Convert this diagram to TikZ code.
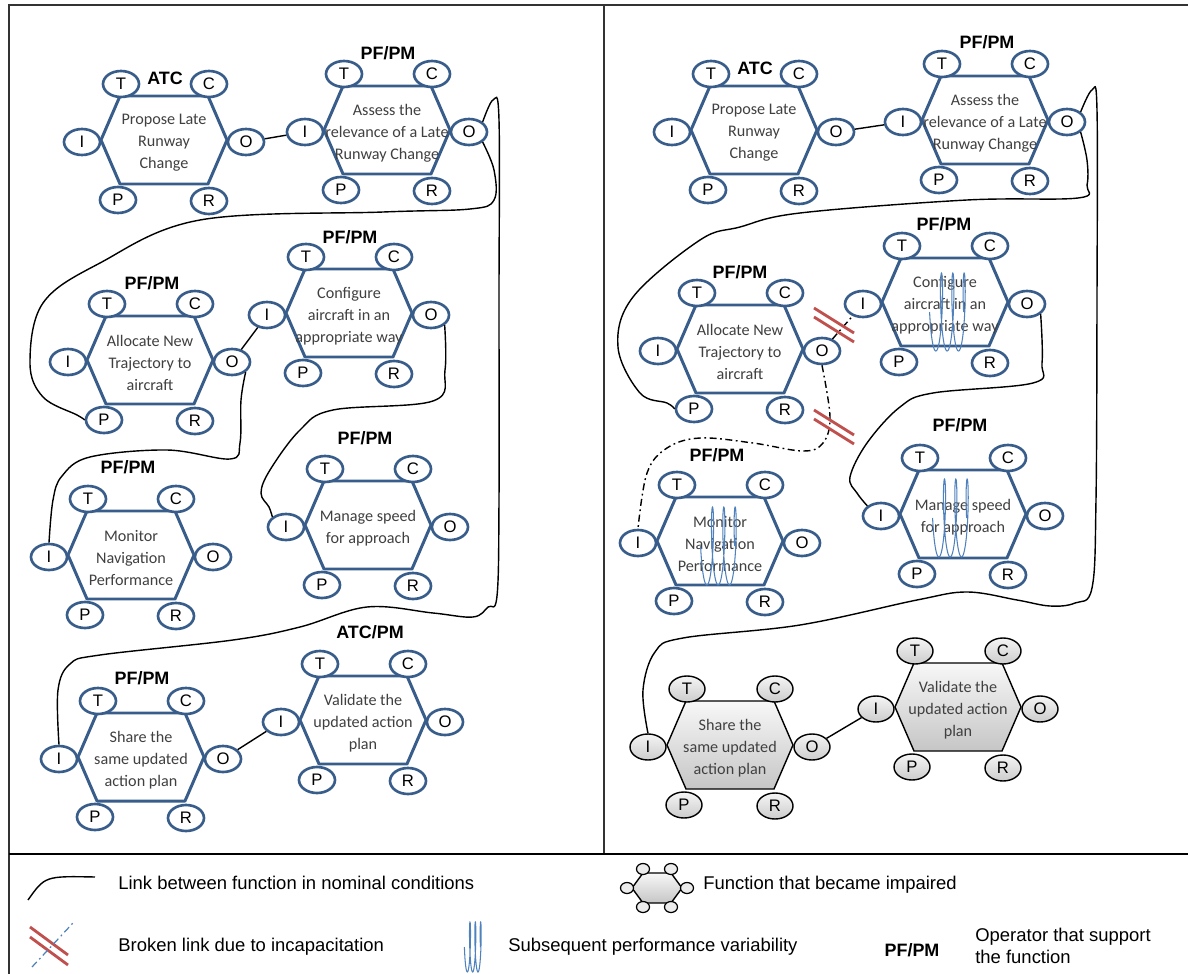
\documentclass[tikz,border=0pt]{standalone}
\usepackage{fontspec}
\setmainfont{Liberation Sans}
\newfontfamily\calibri{Carlito}
\usepackage{tikz}
\usetikzlibrary{positioning,calc,shapes.geometric}
\definecolor{fnblue}{RGB}{56,93,138}
\definecolor{waveblue}{RGB}{79,129,189}
\definecolor{brokenred}{RGB}{192,80,77}
\definecolor{fngray}{RGB}{64,64,64}
\tikzstyle{frame_line} = [line width=0.6pt, draw=black!80]
\tikzstyle{separator} = [line width=1pt, draw=black]
\tikzstyle{hex_nominal} = [draw=fnblue, line width=1.7pt, fill=white, line join=round]
\tikzstyle{hex_impaired} = [draw=black, line width=0.8pt, top color=gray!6, bottom color=gray!45]
\tikzstyle{aspect} = [ellipse, draw=fnblue, line width=1.5pt, fill=white, minimum width=0.72cm, minimum height=0.52cm, inner sep=0pt, font=\fontsize{9.5}{10}\selectfont]
\tikzstyle{aspect_impaired} = [ellipse, draw=black, line width=0.8pt, top color=gray!8, bottom color=gray!40, minimum width=0.72cm, minimum height=0.52cm, inner sep=0pt, font=\fontsize{9.5}{10}\selectfont]
\tikzstyle{fn_text} = [align=center, font=\calibri\fontsize{9.2}{12.5}\selectfont, text=fngray, inner sep=0pt]
\tikzstyle{operator} = [font=\bfseries\fontsize{10.2}{12}\selectfont, inner sep=0pt]
\tikzstyle{link} = [draw=black, line width=0.8pt]
\tikzstyle{broken_link} = [draw=black, line width=0.8pt, dash pattern=on 4pt off 2pt on 1pt off 2pt]
\tikzstyle{broken_mark} = [draw=brokenred, line width=1.6pt]
\tikzstyle{variability} = [draw=waveblue, line width=0.6pt]
\tikzstyle{legend_text} = [anchor=west, font=\fontsize{10.5}{12.5}\selectfont, inner sep=0pt]
% one function: #1 name, #2 centre, #3 text, #4 hexagon style, #5 aspect style
\newcommand{\fnhex}[5]{%
  \coordinate (#1) at (#2);
  \draw[#4] ($(#1)+(-44,-44)$) -- ($(#1)+(44,-44)$) -- ($(#1)+(63,0)$) -- ($(#1)+(44,44)$) -- ($(#1)+(-44,44)$) -- ($(#1)+(-63,0)$) -- cycle;
  \node[fn_text] (#1_text) at ($(#1)+(0,3)$) {#3};
  \foreach \asp/\dx/\dy in {T/-43/-56, C/45/-56, I/-82/2, O/82/2, P/-46/60, R/45/61}
    {\node[#5] (#1_\asp) at ($(#1)+(\dx,\dy)$) {\asp};}
}
% performance variability: #1 centre, #2 half width, #3 half height
\newcommand{\perfwave}[3]{%
  \draw[variability, shift={(#1)}] plot[domain=0:1080, samples=160, smooth] ({-#2+\x/540*#2-0.2*#2*cos(\x)}, {#3*sin(\x)});
}
\begin{document}
\begin{tikzpicture}[x=0.02cm, y=-0.02cm]
    \useasboundingbox (0,0) rectangle (1188,974);
    % Frames -----------------------------------------------------------------------------------
    \draw[frame_line] (1188,5) -- (9,5) -- (9,974);
    \draw[frame_line] (604,5) -- (604,854);
    \draw[separator] (9,854) -- (1188,854);
    % Nominal conditions -----------------------------------------------------------------------
    \fnhex{p1}{164,140}{Propose Late\\Runway\\Change}{hex_nominal}{aspect}
    \fnhex{p2}{387,130}{Assess the\\relevance of a Late\\Runway Change}{hex_nominal}{aspect}
    \fnhex{p3}{150,360}{Allocate New\\Trajectory to\\aircraft}{hex_nominal}{aspect}
    \fnhex{p4}{349,313}{Configure\\aircraft in an\\appropriate way}{hex_nominal}{aspect}
    \fnhex{p5}{368,525}{Manage speed\\for approach}{hex_nominal}{aspect}
    \fnhex{p6}{131,555}{Monitor\\Navigation\\Performance}{hex_nominal}{aspect}
    \fnhex{p7}{141,757}{Share the\\same updated\\action plan}{hex_nominal}{aspect}
    \fnhex{p8}{363,720}{Validate the\\updated action\\plan}{hex_nominal}{aspect}
    \node[operator] (p1_op) at (165,78) {ATC};
    \node[operator] (p2_op) at (388,53) {PF/PM};
    \node[operator] (p3_op) at (152,283) {PF/PM};
    \node[operator] (p4_op) at (350,237) {PF/PM};
    \node[operator] (p5_op) at (365,438) {PF/PM};
    \node[operator] (p6_op) at (128,467) {PF/PM};
    \node[operator] (p7_op) at (142,678) {PF/PM};
    \node[operator] (p8_op) at (370,632) {ATC/PM};
    % links
    \draw[link] (p1_O) -- (p2_I);
    \draw[link] plot[smooth, tension=0.6] coordinates {(p2_O.south east) (494,170) (494,200) (470,209) (383,212) (200,220) (100,263) (43,303) (30,363) (43,397) (77,415) (p3_P.west)};
    \draw[link] plot[smooth, tension=0.6] coordinates {(p2_O.north east) (493,100) (499,120) (499,300) (499,500) (497,596) (488,607) (473,617) (433,613) (367,607) (300,627) (233,640) (100,655) (70,664) (58,690) (p7_I.north)};
    \draw[link] (p3_O) -- (p4_I);
    \draw[link] plot[smooth, tension=0.6] coordinates {(p3_O.south east) (241,400) (240,443) (230,459) (167,450) (90,457) (62,476) (53,500) (p6_I.north)};
    \draw[link] plot[smooth, tension=0.6] coordinates {(p4_O.south east) (445,370) (433,401) (333,410) (300,430) (270,470) (261,493) (269,507) (p5_I.north west)};
    \draw[link] (p7_O) -- (p8_I);
    % Incapacitation ---------------------------------------------------------------------------
    \fnhex{q1}{754,130}{Propose Late\\Runway\\Change}{hex_nominal}{aspect}
    \fnhex{q2}{985,120}{Assess the\\relevance of a Late\\Runway Change}{hex_nominal}{aspect}
    \fnhex{q3}{740,349}{Allocate New\\Trajectory to\\aircraft}{hex_nominal}{aspect}
    \fnhex{q4}{945,302}{Configure\\aircraft in an\\appropriate way}{hex_nominal}{aspect}
    \fnhex{q5}{963,514}{Manage speed\\for approach}{hex_nominal}{aspect}
    \fnhex{q6}{720,541}{Monitor\\Navigation\\Performance}{hex_nominal}{aspect}
    \fnhex{q7}{730,745}{Share the\\same updated\\action plan}{hex_impaired}{aspect_impaired}
    \fnhex{q8}{958,707}{Validate the\\updated action\\plan}{hex_impaired}{aspect_impaired}
    \node[operator] (q1_op) at (755,68) {ATC};
    \node[operator] (q2_op) at (987,42) {PF/PM};
    \node[operator] (q3_op) at (740,272) {PF/PM};
    \node[operator] (q4_op) at (944,224) {PF/PM};
    \node[operator] (q5_op) at (960,425) {PF/PM};
    \node[operator] (q6_op) at (717,455) {PF/PM};
    % variability
    \perfwave{$(q4)+(5,10)$}{17}{39}
    \perfwave{$(q5)+(-10,4)$}{17}{39}
    \perfwave{$(q6)+(1,5)$}{17}{39}
    % links
    \draw[link] (q1_O) -- (q2_I);
    \draw[link] plot[smooth, tension=0.6] coordinates {(q2_O.south east) (1087,160) (1087,185) (1078,198) (967,200) (800,213) (740,227) (700,240) (633,297) (618,347) (640,393) (667,403) (q3_P.west)};
    \draw[link] plot[smooth, tension=0.6] coordinates {(q2_O.north east) (1092,90) (1097,110) (1097,300) (1096,500) (1092,588) (1075,603) (1050,606) (1017,600) (967,592) (917,600) (800,625) (683,638) (655,652) (643,690) (q7_I.north)};
    \draw[broken_link] (q3_O) -- (q4_I);
    \draw[broken_link] plot[smooth, tension=0.6] coordinates {(q3_O.south) (830,417) (823,443) (803,451) (753,443) (700,438) (667,448) (647,473) (q6_I.north)};
    \draw[link] plot[smooth, tension=0.6] coordinates {(q4_O.south east) (1042,363) (1033,383) (933,393) (900,407) (867,443) (850,477) (857,493) (q5_I.north west)};
    \draw[link] (q7_O) -- (q8_I);
    % broken links
    \coordinate (cut_a) at (834,325);
    \coordinate (cut_b) at (834,427);
    \foreach \cut in {cut_a, cut_b} {
        \draw[broken_mark] ($(\cut)+(-20,-17)$) -- ($(\cut)+(20,8)$);
        \draw[broken_mark] ($(\cut)+(-20,-8)$) -- ($(\cut)+(20,17)$);
    }
    % Legend -----------------------------------------------------------------------------------
    \coordinate (leg_link_a) at (28,900);
    \coordinate (leg_link_b) at (95,877);
    \draw[link] (leg_link_a) .. controls (45,876) .. (leg_link_b);
    \node[legend_text] (leg_link) at (118,883) {Link between function in nominal conditions};
    \draw[broken_mark] (30,927) -- (68,955);
    \draw[broken_mark] (30,937) -- (68,965);
    \draw[draw=waveblue, line width=0.7pt, dash pattern=on 4pt off 2pt on 1pt off 2pt] (32,967) -- (73,923);
    \node[legend_text] (leg_broken) at (118,947) {Broken link due to incapacitation};
    % impaired function icon
    \coordinate (leg_fn) at (657,888);
    \draw[hex_impaired] ($(leg_fn)+(-14,-15)$) -- ($(leg_fn)+(14,-15)$) -- ($(leg_fn)+(25,0)$) -- ($(leg_fn)+(14,15)$) -- ($(leg_fn)+(-14,15)$) -- ($(leg_fn)+(-25,0)$) -- cycle;
    \foreach \dx/\dy in {-14/-19, 14/-19, -30/0, 30/0, -14/19, 14/19}
        \draw[draw=black, line width=0.7pt, fill=gray!15] ($(leg_fn)+(\dx,\dy)$) ellipse [x radius=6.5, y radius=5.5];
    \node[legend_text] (leg_impaired) at (703,885) {Function that became impaired};
    \perfwave{474,947}{8}{25}
    \node[legend_text] (leg_variability) at (508,947) {Subsequent performance variability};
    \node[operator] (leg_op) at (912,950) {PF/PM};
    \node[legend_text, align=left] (leg_op_text) at (975,946) {Operator that support\\the function};
\end{tikzpicture}
\end{document}
